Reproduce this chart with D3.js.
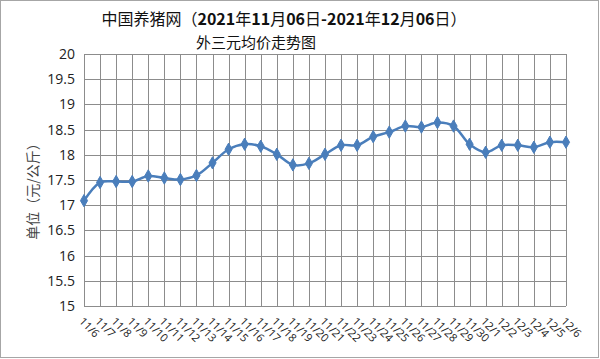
<!DOCTYPE html>
<html><head><meta charset="utf-8">
<script src="https://cdn.jsdelivr.net/npm/d3@7"></script>
<style>body{margin:0;background:#fff}svg{display:block}</style>
</head><body>
<svg id="c" width="600" height="359"></svg>
<script>
const categories = ["11/6","11/7","11/8","11/9","11/10","11/11","11/12","11/13","11/14","11/15","11/16","11/17","11/18","11/19","11/20","11/21","11/22","11/23","11/24","11/25","11/26","11/27","11/28","11/29","11/30","12/1","12/2","12/3","12/4","12/5","12/6"];
const prices = [17.09,17.45,17.47,17.47,17.58,17.54,17.51,17.59,17.84,18.11,18.21,18.17,18.01,17.80,17.83,18.01,18.19,18.19,18.36,18.45,18.57,18.55,18.64,18.57,18.21,18.05,18.19,18.19,18.15,18.25,18.25];
const yTicks = [15,15.5,16,16.5,17,17.5,18,18.5,19,19.5,20];
const titleParts = [["中国养猪网（",false],["2021",true],["年",false],["11",true],["月",false],["06",true],["日",false],["-2021",true],["年",false],["12",true],["月",false],["06",true],["日）",false]];
const titleLine2 = "外三元均价走势图";
const yTitle = "单位（元/公斤）";

const svg = d3.select("#c");
const L = 84, R = 566, T = 54, B = 306;
const x = d3.scalePoint().domain(categories).range([L, R]);
const y = d3.scaleLinear().domain([15, 20]).range([B, T]);

svg.append("rect").attr("x",0.5).attr("y",0.5).attr("width",598).attr("height",357)
  .attr("fill","#fff").attr("stroke","#a6a6a6");

// grid
const g = svg.append("g");
g.selectAll(".hg").data(yTicks).join("line")
  .attr("x1",L).attr("x2",R).attr("y1",d=>Math.round(y(d))+0.5).attr("y2",d=>Math.round(y(d))+0.5)
  .attr("stroke","#8c8c8c").attr("stroke-width",1);
g.selectAll(".vg").data(categories).join("line")
  .attr("x1",d=>Math.round(x(d))+0.5).attr("x2",d=>Math.round(x(d))+0.5).attr("y1",T).attr("y2",B)
  .attr("stroke","#8c8c8c").attr("stroke-width",1);

// y axis
const ya = d3.axisLeft(y).tickValues(yTicks).tickSize(0).tickPadding(9).tickFormat(d3.format("~g"));
svg.append("g").attr("transform",`translate(${L},0)`).call(ya)
  .call(s=>s.select(".domain").remove())
  .selectAll("text").attr("font-family","Open Sans, Liberation Sans, sans-serif").attr("font-size",14).attr("fill","#222");

// x axis labels
const xa = d3.axisBottom(x).tickSize(0).tickPadding(0);
svg.append("g").attr("transform",`translate(0,${B})`).call(xa)
  .call(s=>s.select(".domain").remove())
  .selectAll("text")
  .attr("font-family","Open Sans, Liberation Sans, sans-serif").attr("font-size",11).attr("fill","#222")
  .attr("text-anchor","start").attr("dy",0)
  .attr("transform","translate(-6,16) rotate(45)");

// line
const line = d3.line().x((d,i)=>x(categories[i])).y(d=>y(d)).curve(d3.curveCatmullRom.alpha(0.5));
svg.append("path").datum(prices).attr("d",line).attr("fill","none")
  .attr("stroke","#4a7ebb").attr("stroke-width",2.5);
svg.selectAll(".m").data(prices).join("path")
  .attr("d",d3.symbol(d3.symbolDiamond,44))
  .attr("transform",(d,i)=>`translate(${x(categories[i])},${y(d)})`)
  .attr("fill","#4a7ebb").attr("stroke","#4a7ebb");

// titles
const t1 = svg.append("text").attr("x",284).attr("y",25).attr("text-anchor","middle")
  .attr("font-family","Noto Sans CJK SC, sans-serif").attr("font-size",16).attr("fill","#111");
t1.selectAll("tspan").data(titleParts).join("tspan")
  .attr("font-weight",d=>d[1]?"bold":"normal").text(d=>d[0]);
svg.append("text").attr("x",256).attr("y",48).attr("text-anchor","middle")
  .attr("font-family","Noto Sans CJK SC, sans-serif").attr("font-size",15).attr("fill","#111")
  .text(titleLine2);
svg.append("text").attr("transform","translate(38,188) rotate(-90)").attr("text-anchor","middle")
  .attr("font-family","Noto Sans CJK SC, sans-serif").attr("font-size",14).attr("fill","#444")
  .text(yTitle);
</script>
</body></html>
